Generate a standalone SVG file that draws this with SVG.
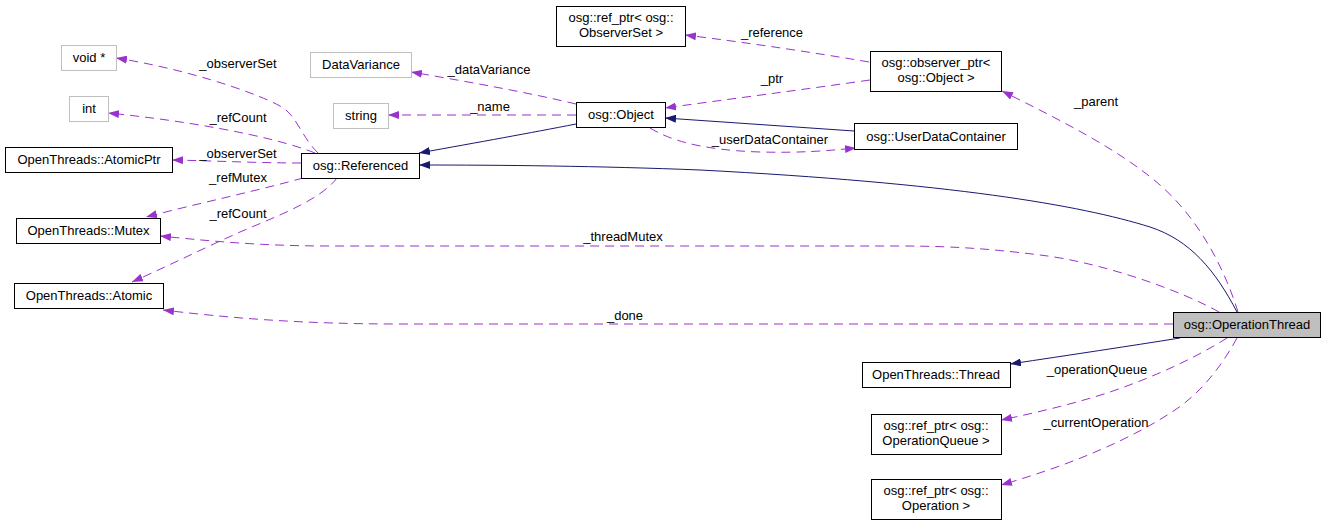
<svg xmlns="http://www.w3.org/2000/svg" width="1325" height="525" viewBox="0 0 1325 525">
<style>
  .box{fill:#fff;stroke:#000;stroke-width:1}
  .gbox{fill:#fff;stroke:#bfbfbf;stroke-width:1}
  .sel{fill:#bfbfbf;stroke:#000;stroke-width:1}
  text{font-family:"Liberation Sans",Arial,Helvetica,sans-serif;font-size:13px;fill:#000}
  .c{text-anchor:middle}
  .use{fill:none;stroke:#9a32cd;stroke-width:1;stroke-dasharray:9,6;marker-end:url(#ap)}
  .inh{fill:none;stroke:#191970;stroke-width:1;marker-end:url(#an)}
</style>
<defs>
  <marker id="ap" viewBox="0 0 11 8" refX="11" refY="4" markerWidth="11" markerHeight="8" markerUnits="userSpaceOnUse" orient="auto">
    <path d="M0,0 L11,4 L0,8 z" fill="#9a32cd"/>
  </marker>
  <marker id="an" viewBox="0 0 11 8" refX="11" refY="4" markerWidth="11" markerHeight="8" markerUnits="userSpaceOnUse" orient="auto">
    <path d="M0,0 L11,4 L0,8 z" fill="#191970"/>
  </marker>
</defs>
<rect width="1325" height="525" fill="#fff"/>

<g id="edges">
  <path class="use" d="M318,153 C300,135 297,115 280,106 C250,90 180,68 116,58"/>
  <path class="use" d="M315,153 C270,135 180,120 108,113"/>
  <path class="use" d="M301,163 C260,163 220,161 172,160"/>
  <path class="use" d="M303,178 C260,190 200,203 146,217"/>
  <path class="use" d="M337,178 C320,200 280,215 240,232 C200,250 170,265 132,282"/>
  <path class="use" d="M576,104 C530,93 470,82 411,72"/>
  <path class="use" d="M576,115 L388,115"/>
  <path class="inh" d="M576,124 C530,133 480,142 419,153"/>
  <path class="use" d="M650,128 C670,140 700,150 760,152 C800,153 825,151 856,148"/>
  <path class="inh" d="M854,131 L665,118"/>
  <path class="use" d="M869,62 C810,52 750,43 685,35"/>
  <path class="use" d="M870,80 C800,90 730,99 665,108"/>
  <path class="use" d="M1238,312 C1225,270 1200,220 1160,185 C1120,150 1060,120 1002,91"/>
  <path class="inh" d="M1237,312 C1215,270 1190,240 1150,227 C1080,205 950,183 700,170 C600,166 500,165 419,165"/>
  <path class="use" d="M1219,312 C1180,290 1100,262 1040,255 C1000,250 960,246 900,246 L330,246 C260,246 210,241 160,236"/>
  <path class="use" d="M1173,324 L400,324 C300,324 230,318 163,310"/>
  <path class="inh" d="M1180,338 C1130,346 1070,355 1010,364"/>
  <path class="use" d="M1227,338 C1200,355 1160,375 1110,392 C1080,402 1040,412 1001,420"/>
  <path class="use" d="M1237,338 C1225,360 1205,390 1175,410 C1130,440 1070,465 1001,485"/>
  <text class="c" x="238" y="68">_observerSet</text>
  <text class="c" x="238" y="122">_refCount</text>
  <text class="c" x="238" y="158">_observerSet</text>
  <text class="c" x="238" y="182">_refMutex</text>
  <text class="c" x="238" y="218">_refCount</text>
  <text class="c" x="489" y="74">_dataVariance</text>
  <text class="c" x="490" y="111">_name</text>
  <text class="c" x="770" y="144">_userDataContainer</text>
  <text class="c" x="772" y="37">_reference</text>
  <text class="c" x="772" y="83">_ptr</text>
  <text class="c" x="1096" y="106">_parent</text>
  <text class="c" x="623" y="241">_threadMutex</text>
  <text class="c" x="625" y="320">_done</text>
  <text class="c" x="1097" y="374">_operationQueue</text>
  <text class="c" x="1096" y="427">_currentOperation</text>
</g>

<g id="node-OperationThread"><rect class="sel" x="1173.5" y="312.5" width="147" height="25"/><text class="c" x="1247" y="329">osg::OperationThread</text></g>
<g id="node-Referenced"><rect class="box" x="301.5" y="153.5" width="118" height="25"/><text class="c" x="360.5" y="170">osg::Referenced</text></g>
<g id="node-voidptr"><rect class="gbox" x="61.5" y="45.5" width="55" height="25"/><text class="c" x="89" y="62">void *</text></g>
<g id="node-int"><rect class="gbox" x="69.5" y="96.5" width="39" height="25"/><text class="c" x="89" y="113">int</text></g>
<g id="node-AtomicPtr"><rect class="box" x="5.5" y="147.5" width="167" height="25"/><text class="c" x="89" y="164">OpenThreads::AtomicPtr</text></g>
<g id="node-Mutex"><rect class="box" x="16.5" y="218.5" width="144" height="25"/><text class="c" x="88.5" y="235">OpenThreads::Mutex</text></g>
<g id="node-Atomic"><rect class="box" x="14.5" y="283.5" width="149" height="25"/><text class="c" x="89" y="300">OpenThreads::Atomic</text></g>
<g id="node-DataVariance"><rect class="gbox" x="310.5" y="52.5" width="101" height="25"/><text class="c" x="361" y="69">DataVariance</text></g>
<g id="node-string"><rect class="gbox" x="333.5" y="103.5" width="55" height="25"/><text class="c" x="361" y="120">string</text></g>
<g id="node-Object"><rect class="box" x="576.5" y="102.5" width="89" height="25"/><text class="c" x="621" y="119">osg::Object</text></g>
<g id="node-ObserverSetRef"><rect class="box" x="556.5" y="6.5" width="129" height="40"/><text class="c" x="621" y="22">osg::ref_ptr&lt; osg::</text><text class="c" x="621" y="37">ObserverSet &gt;</text></g>
<g id="node-observer_ptr"><rect class="box" x="870.5" y="51.5" width="131" height="40"/><text class="c" x="936" y="67">osg::observer_ptr&lt;</text><text class="c" x="936" y="82">osg::Object &gt;</text></g>
<g id="node-UserDataContainer"><rect class="box" x="854.5" y="123.5" width="163" height="26"/><text class="c" x="936" y="141">osg::UserDataContainer</text></g>
<g id="node-Thread"><rect class="box" x="862.5" y="362.5" width="148" height="25"/><text class="c" x="936" y="379">OpenThreads::Thread</text></g>
<g id="node-OperationQueueRef"><rect class="box" x="871.5" y="414.5" width="130" height="40"/><text class="c" x="936" y="430">osg::ref_ptr&lt; osg::</text><text class="c" x="936" y="445">OperationQueue &gt;</text></g>
<g id="node-OperationRef"><rect class="box" x="871.5" y="479.5" width="130" height="40"/><text class="c" x="936" y="495">osg::ref_ptr&lt; osg::</text><text class="c" x="936" y="510">Operation &gt;</text></g>
</svg>
